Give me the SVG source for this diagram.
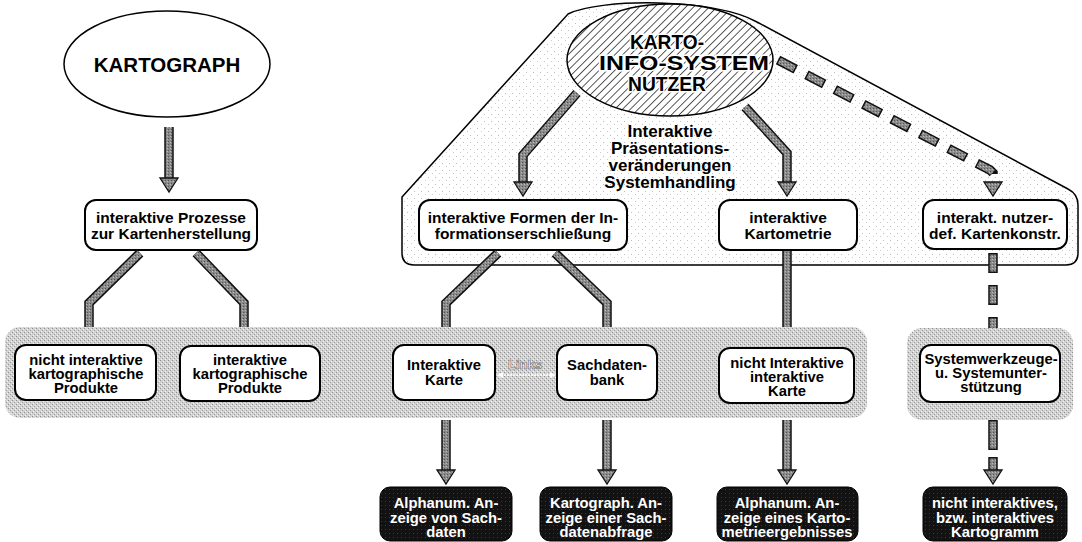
<svg xmlns="http://www.w3.org/2000/svg" width="1082" height="542" viewBox="0 0 1082 542">
<defs>
<pattern id="stip" width="4" height="4" patternUnits="userSpaceOnUse"><rect width="4" height="4" fill="#d2d2d2"/><rect x="0" y="0" width="1" height="1" fill="#8e8e8e"/><rect x="2" y="2" width="1" height="1" fill="#9a9a9a"/><rect x="1" y="3" width="1" height="1" fill="#f2f2f2"/><rect x="3" y="1" width="1" height="1" fill="#f2f2f2"/></pattern>
<pattern id="light" width="7" height="7" patternUnits="userSpaceOnUse"><rect width="7" height="7" fill="#fff"/><rect x="1" y="2" width="1" height="1" fill="#bdbdbd"/><rect x="5" y="5" width="1" height="1" fill="#c8c8c8"/></pattern>
<pattern id="hatch" width="5.5" height="5.5" patternUnits="userSpaceOnUse" patternTransform="rotate(45)"><rect width="5.5" height="5.5" fill="#fff"/><line x1="0" y1="0" x2="0" y2="5.5" stroke="#111" stroke-width="1.4"/></pattern>
<pattern id="dark" width="3" height="3" patternUnits="userSpaceOnUse"><rect width="3" height="3" fill="#8a8a8a"/><rect x="0" y="0" width="1" height="1" fill="#555"/><rect x="2" y="1" width="1" height="1" fill="#bbb"/></pattern>
<pattern id="blk" width="4" height="4" patternUnits="userSpaceOnUse"><rect width="4" height="4" fill="#121212"/><rect x="1" y="1" width="1" height="1" fill="#3a3a3a"/></pattern>
</defs>
<style>
text{font-family:"Liberation Sans",Arial,sans-serif;font-weight:bold;text-anchor:middle}
.t15{font-size:15.5px;fill:#000}
.t14{font-size:14.8px;fill:#000}
.w{font-size:14.8px;fill:#fff}
.big{font-size:20px;fill:#000;stroke:#fff;stroke-width:3;paint-order:stroke}
.lab{font-size:17px;fill:#000}
.box{fill:#fff;stroke:#000;stroke-width:2}
.bb{fill:url(#blk);stroke:#000;stroke-width:1}
.band{fill:url(#stip)}
.ol{fill:none;stroke:#111;stroke-width:9.5;stroke-linejoin:miter}
.in{fill:none;stroke:url(#dark);stroke-width:6.5;stroke-linejoin:miter}
.hd{fill:url(#dark);stroke:#111;stroke-width:1.3;stroke-linejoin:miter}
.d1{stroke-dasharray:20 12}
.d1i{stroke-dasharray:17 15;stroke-dashoffset:-1.5}
</style>

<g id="system-frame">
<path d="M402,197 L568,14 C600,-2 715,-2 757,22 L1068,189 Q1078,194 1078,205 L1078,253 Q1078,265 1066,265 L414,265 Q402,265 402,253 Z" fill="url(#light)" stroke="#000" stroke-width="1.5"/>
</g>

<g id="kartograph">
<ellipse cx="167" cy="64" rx="103" ry="53" fill="#fff" stroke="#000" stroke-width="1.5"/>
<text x="167" y="72" style="font-size:20.5px">KARTOGRAPH</text>
</g>

<g id="nutzer">
<ellipse cx="670" cy="60" rx="103" ry="56" fill="url(#hatch)" stroke="#000" stroke-width="1.5"/>
<text class="big" x="667" y="49" textLength="74" lengthAdjust="spacingAndGlyphs">KARTO-</text>
<text class="big" x="684" y="70" textLength="170" lengthAdjust="spacingAndGlyphs">INFO-SYSTEM</text>
<text class="big" x="667" y="91" textLength="78" lengthAdjust="spacingAndGlyphs">NUTZER</text>
</g>

<g id="system-label">
<text class="lab" x="670" y="137">Interaktive</text>
<text class="lab" x="670" y="154">Präsentations-</text>
<text class="lab" x="670" y="171">veränderungen</text>
<text class="lab" x="670" y="188">Systemhandling</text>
</g>

<g id="prozesse">
<rect class="box" x="85" y="200" width="172" height="50" rx="11"/>
<text class="t15" x="171" y="223">interaktive Prozesse</text>
<text class="t15" x="171" y="239">zur Kartenherstellung</text>
</g>

<g id="formen">
<rect class="box" x="419" y="200" width="208" height="50" rx="11"/>
<text class="t15" x="523" y="223">interaktive Formen der In-</text>
<text class="t15" x="523" y="239">formationserschließung</text>
</g>

<g id="kartometrie">
<rect class="box" x="719" y="200" width="138" height="50" rx="11"/>
<text class="t15" x="788" y="223">interaktive</text>
<text class="t15" x="788" y="239">Kartometrie</text>
</g>

<g id="kartenkonstr">
<rect class="box" x="923" y="200" width="144" height="49" rx="11"/>
<text class="t15" x="995" y="223">interakt. nutzer-</text>
<text class="t15" x="995" y="239">def. Kartenkonstr.</text>
</g>

<g id="band-main">
<rect class="band" x="5" y="327" width="862" height="91" rx="15"/>
</g>
<g id="band-right">
<rect class="band" x="907" y="328" width="166" height="92" rx="15"/>
</g>

<g id="nicht-interaktive-produkte">
<rect class="box" x="15" y="345" width="141" height="55" rx="11"/>
<text class="t14" x="86" y="365">nicht interaktive</text>
<text class="t14" x="86" y="379">kartographische</text>
<text class="t14" x="86" y="393">Produkte</text>
</g>

<g id="interaktive-produkte">
<rect class="box" x="180" y="346" width="140" height="55" rx="11"/>
<text class="t14" x="250" y="365">interaktive</text>
<text class="t14" x="250" y="379">kartographische</text>
<text class="t14" x="250" y="393">Produkte</text>
</g>

<g id="interaktive-karte">
<rect class="box" x="393" y="345" width="102" height="55" rx="11"/>
<text class="t14" x="444" y="370">Interaktive</text>
<text class="t14" x="444" y="385">Karte</text>
</g>

<g id="links">
<text x="525" y="369" style="font-size:13px;fill:#fafafa;stroke:#6a6a6a;stroke-width:0.6">Links</text>
<path d="M501,375 H552" stroke="#fff" stroke-width="1.5" stroke-dasharray="2 1" fill="none"/>
<path d="M497,375 L503,372 L503,378 Z M556,375 L550,372 L550,378 Z" fill="#fff"/>
</g>

<g id="sachdatenbank">
<rect class="box" x="557" y="345" width="100" height="55" rx="11"/>
<text class="t14" x="607" y="370">Sachdaten-</text>
<text class="t14" x="607" y="385">bank</text>
</g>

<g id="nicht-interaktive-karte">
<rect class="box" x="719" y="348" width="135" height="55" rx="11"/>
<text class="t14" x="787" y="368">nicht Interaktive</text>
<text class="t14" x="787" y="382">interaktive</text>
<text class="t14" x="787" y="396">Karte</text>
</g>

<g id="systemwerkzeuge">
<rect class="box" x="920" y="345" width="140" height="57" rx="11"/>
<text class="t14" x="991" y="364">Systemwerkzeuge-</text>
<text class="t14" x="991" y="378">u. Systemunter-</text>
<text class="t14" x="991" y="392">stützung</text>
</g>

<g id="ausgabe-sachdaten">
<rect class="bb" x="380" y="487" width="132" height="54" rx="10"/>
<text class="w" x="446" y="508">Alphanum. An-</text>
<text class="w" x="446" y="523">zeige von Sach-</text>
<text class="w" x="446" y="537">daten</text>
</g>

<g id="ausgabe-abfrage">
<rect class="bb" x="540" y="487" width="132" height="54" rx="10"/>
<text class="w" x="606" y="508">Kartograph. An-</text>
<text class="w" x="606" y="523">zeige einer Sach-</text>
<text class="w" x="606" y="537">datenabfrage</text>
</g>

<g id="ausgabe-kartometrie">
<rect class="bb" x="717" y="487" width="141" height="54" rx="10"/>
<text class="w" x="787" y="508">Alphanum. An-</text>
<text class="w" x="787" y="523">zeige eines Karto-</text>
<text class="w" x="787" y="537">metrieergebnisses</text>
</g>

<g id="ausgabe-kartogramm">
<rect class="bb" x="923" y="487" width="144" height="54" rx="10"/>
<text class="w" x="995" y="508">nicht interaktives,</text>
<text class="w" x="995" y="523">bzw. interaktives</text>
<text class="w" x="995" y="537">Kartogramm</text>
</g>

<g id="connectors">
<path class="ol" d="M169,127 V178"/><path class="in" d="M169,127 V178"/>
<path class="hd" d="M160,178 H178 L169,192 Z"/>
<path class="ol" d="M577,93 L523,155 V182"/><path class="in" d="M577,93 L523,155 V182"/>
<path class="hd" d="M514,182 H532 L523,196 Z"/>
<path class="ol" d="M745,107 L787,153 V182"/><path class="in" d="M745,107 L787,153 V182"/>
<path class="hd" d="M778,182 H796 L787,196 Z"/>
<path class="ol d1" d="M778,60 L990,170 L993,173 V182"/><path class="in d1i" d="M778,60 L990,170 L993,173 V182"/>
<path class="hd" d="M984,182 H1002 L993,196 Z"/>
<path class="ol" d="M140,253 L89,303 V327"/><path class="in" d="M140,253 L89,303 V327"/>
<path class="ol" d="M196,253 L244,303 V327"/><path class="in" d="M196,253 L244,303 V327"/>
<path class="ol" d="M498,253 L446,303 V327"/><path class="in" d="M498,253 L446,303 V327"/>
<path class="ol" d="M555,253 L607,303 V327"/><path class="in" d="M555,253 L607,303 V327"/>
<path class="ol" d="M787,251 V327"/><path class="in" d="M787,251 V327"/>
<path class="ol d1" d="M993,253 V328"/><path class="in d1i" d="M993,253 V328"/>
<path class="ol" d="M446,420 V470"/><path class="in" d="M446,420 V470"/>
<path class="hd" d="M437,470 H455 L446,484 Z"/>
<path class="ol" d="M607,420 V470"/><path class="in" d="M607,420 V470"/>
<path class="hd" d="M598,470 H616 L607,484 Z"/>
<path class="ol" d="M787,420 V470"/><path class="in" d="M787,420 V470"/>
<path class="hd" d="M778,470 H796 L787,484 Z"/>
<path class="ol" d="M993,420 V450 M993,457 V470"/><path class="in" d="M993,421.5 V448.5 M993,458.5 V470"/>
<path class="hd" d="M984,470 H1002 L993,484 Z"/>
</g>
</svg>
